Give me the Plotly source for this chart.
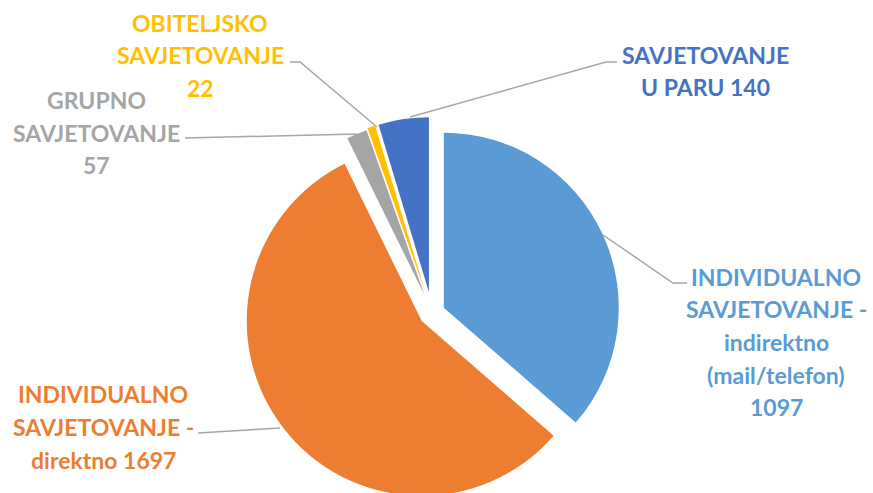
import plotly.graph_objects as go

# ---- data ----
categories = [
    "INDIVIDUALNO SAVJETOVANJE - indirektno (mail/telefon)",
    "INDIVIDUALNO SAVJETOVANJE - direktno",
    "GRUPNO SAVJETOVANJE",
    "OBITELJSKO SAVJETOVANJE",
    "SAVJETOVANJE U PARU",
]
values = [1097, 1697, 57, 22, 140]
colors = ["#5B9BD5", "#ED7D31", "#A5A5A5", "#FFC000", "#4472C4"]
pulls = [0.074, 0.074, 0.11, 0.12, 0.12]

# label lines as displayed (value appended from values)
label_lines = [
    ["INDIVIDUALNO", "SAVJETOVANJE -", "indirektno", "(mail/telefon)", "{v}"],
    ["INDIVIDUALNO", "SAVJETOVANJE -", "direktno {v}"],
    ["GRUPNO", "SAVJETOVANJE", "{v}"],
    ["OBITELJSKO", "SAVJETOVANJE", "{v}"],
    ["SAVJETOVANJE", "U PARU {v}"],
]

# ---- layout (pixels) ----
W, H = 873, 512
CX, CY, R = 432, 313, 175

label_pos = [  # center x, list of line y
    (776, [277, 309, 342, 375, 407]),
    (103, [394, 427, 460]),
    (96, [100, 133, 165]),
    (200, [23, 55, 88]),
    (705, [55, 87]),
]
leaders = [
    [(687, 283), (673, 283), (603, 235)],
    [(198, 433), (280, 428)],
    [(185, 138), (357, 134)],
    [(290, 62), (300, 62), (377, 127)],
    [(617, 62), (606, 62), (410, 117)],
]

def px(x, y):
    return x / W, (H - y) / H

maxpull = max(pulls)
half = R * (1 + maxpull)
dom_y = [(H - (CY + half)) / H, (H - (CY - half)) / H]
dom_x = [0, 2 * CX / W]

fig = go.Figure(go.Pie(
    labels=categories,
    values=values,
    sort=False,
    direction="clockwise",
    rotation=0,
    pull=pulls,
    marker=dict(colors=colors, line=dict(width=0)),
    textinfo="none",
    hoverinfo="label+value",
    showlegend=False,
    domain=dict(x=dom_x, y=dom_y),
))

shapes = []
for pts in leaders:
    path = ""
    for i, (x, y) in enumerate(pts):
        xp, yp = px(x, y)
        path += ("M" if i == 0 else "L") + f" {xp} {yp} "
    shapes.append(dict(type="path", xref="paper", yref="paper", path=path,
                       line=dict(color="#A6A6A6", width=1.5)))

annotations = []
for lines, (cx, ys), col, v in zip(label_lines, label_pos, colors, values):
    for ln, y in zip(lines, ys):
        xp, yp = px(cx, y)
        annotations.append(dict(
            x=xp, y=yp, xref="paper", yref="paper",
            text=ln.format(v=v), showarrow=False,
            xanchor="center", yanchor="middle",
            font=dict(family="Lato", size=23, color=col, weight="bold"),
        ))

fig.update_layout(
    width=W, height=H,
    margin=dict(l=0, r=0, t=0, b=0),
    paper_bgcolor="white", plot_bgcolor="white",
    shapes=shapes, annotations=annotations,
)

fig.write_html(
    "out.html",
    config={"displayModeBar": False},
    post_script="document.body.style.margin='0';document.documentElement.style.overflow='hidden';document.body.style.overflow='hidden';",
)
